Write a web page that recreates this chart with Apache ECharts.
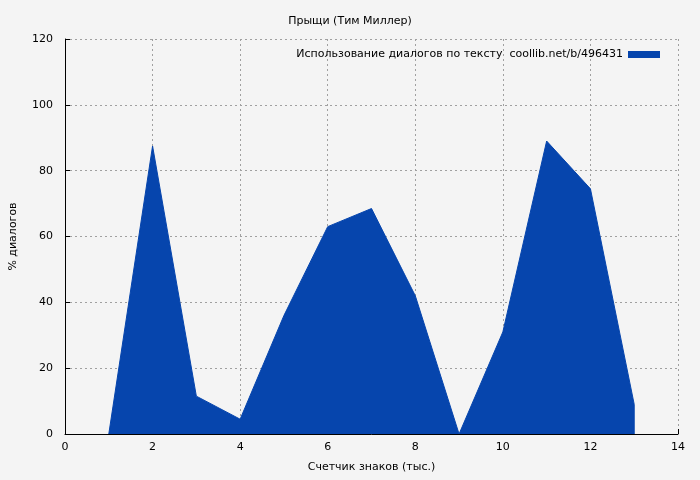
<!DOCTYPE html>
<html>
<head>
<meta charset="utf-8">
<script src="https://cdn.jsdelivr.net/npm/echarts@6/dist/echarts.min.js"></script>
<style>
  html, body { margin: 0; padding: 0; background: #f4f4f4; }
  #chart { width: 700px; height: 480px; }
</style>
</head>
<body>
<div id="chart"></div>
<script>
const thousands = [1, 2, 3, 4, 5, 6, 7, 8, 9, 10, 11, 12, 13, 13];
const dialogPct = [0, 87.5, 11.5, 4.5, 36, 63, 68.5, 42, 0, 31, 89, 74.5, 9, 0];
const seriesName = 'Использование диалогов по тексту  coollib.net/b/496431';

const font = 'DejaVu Sans';
const chart = echarts.init(document.getElementById('chart'));
const gridLine = { show: true, lineStyle: { color: '#a0a0a0', type: [2, 3], width: 1 } };

chart.setOption({
  backgroundColor: '#f4f4f4',
  animation: false,
  textStyle: { fontFamily: font },
  title: {
    text: 'Прыщи (Тим Миллер)',
    left: 'center',
    top: 11,
    textStyle: { fontSize: 11, fontWeight: 'normal', color: '#000', fontFamily: font }
  },
  legend: {
    top: 44,
    right: 35,
    align: 'right',
    itemWidth: 32,
    itemHeight: 7,
    icon: 'rect',
    textStyle: { fontSize: 11, color: '#000', fontFamily: font },
    data: [seriesName]
  },
  grid: { left: 62, right: 22, top: 39, bottom: 46 },
  xAxis: {
    type: 'value',
    min: 0, max: 14, interval: 2,
    name: 'Счетчик знаков (тыс.)',
    nameLocation: 'middle',
    nameGap: 28,
    nameTextStyle: { fontSize: 11, color: '#000' },
    axisLine: { lineStyle: { color: '#000' } },
    axisTick: { inside: true, length: 5, lineStyle: { color: '#000' } },
    axisLabel: { fontSize: 11, color: '#000', margin: 8 },
    splitLine: gridLine
  },
  yAxis: {
    type: 'value',
    min: 0, max: 120, interval: 20,
    name: '% диалогов',
    nameLocation: 'middle',
    nameGap: 46,
    nameTextStyle: { fontSize: 11, color: '#000' },
    axisLine: { show: true, lineStyle: { color: '#000' } },
    axisTick: { show: true, inside: true, length: 5, lineStyle: { color: '#000' } },
    axisLabel: { fontSize: 11, color: '#000', margin: 12 },
    splitLine: gridLine
  },
  series: [{
    name: seriesName,
    type: 'line',
    data: thousands.map((x, i) => [x, dialogPct[i]]),
    symbol: 'none',
    lineStyle: { width: 1, color: '#0645ad' },
    itemStyle: { color: '#0645ad' },
    areaStyle: { color: '#0645ad', opacity: 1 }
  }]
});
</script>
</body>
</html>
